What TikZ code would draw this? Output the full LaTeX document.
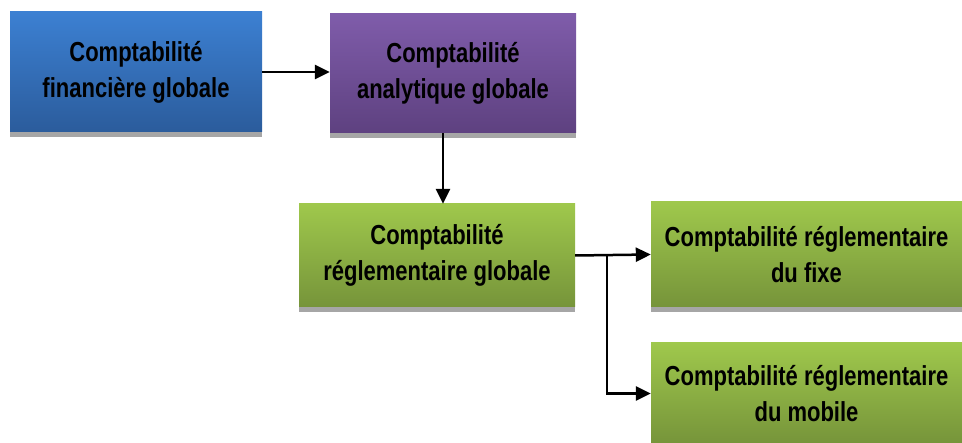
\documentclass[tikz,border=0pt]{standalone}
\usepackage{fontspec}
\setmainfont[FakeStretch=0.8]{Liberation Sans}
\usetikzlibrary{arrows.meta,shadows,calc}

\begin{document}
\begin{tikzpicture}[x=1pt,y=-1pt,
	box/.style={rectangle,inner sep=0pt,align=center,font=\fontsize{27.5}{36}\selectfont\bfseries,
		drop shadow={shadow xshift=0pt,shadow yshift=-5pt,fill=black!35,opacity=1}},
	bluebox/.style={box,top color=blue1,bottom color=blue2},
	violetbox/.style={box,top color=violet1,bottom color=violet2},
	greenbox/.style={box,top color=green1,bottom color=green2},
	link/.style={line width=2.5pt,-{Triangle[length=15pt,width=14pt]}}]
	\definecolor{blue1}{HTML}{3C80D2}
	\definecolor{blue2}{HTML}{2B5C9C}
	\definecolor{violet1}{HTML}{7F5CAA}
	\definecolor{violet2}{HTML}{5E4180}
	\definecolor{green1}{HTML}{9FC84C}
	\definecolor{green2}{HTML}{76943A}
	\useasboundingbox (0,0) rectangle (962,443);
	\node[bluebox,minimum width=252,minimum height=120] (fin) at (136,72) {Comptabilité\\financière globale};
	\node[violetbox,minimum width=246,minimum height=119] (ana) at (453,73.5) {Comptabilité\\analytique globale};
	\node[greenbox,minimum width=276,minimum height=103] (reg) at (437,255.5) {Comptabilité\\réglementaire globale};
	\node[greenbox,minimum width=311,minimum height=105] (fixe) at (806.5,254.5) {Comptabilité réglementaire\\du fixe};
	\node[greenbox,minimum width=311,minimum height=101] (mob) at (806.5,393.5) {Comptabilité réglementaire\\du mobile};
	\coordinate (br) at ($(reg.east)+(32,0)$);
	\draw[link] (fin.east) -- (fin.east -| ana.west);
	\draw[link] ([xshift=-10pt]ana.south) -- ([xshift=-10pt]ana.south |- reg.north);
	\draw[link] (reg.east) -- (fixe.west);
	\draw[link] (br) |- (mob.west);
\end{tikzpicture}
\end{document}
